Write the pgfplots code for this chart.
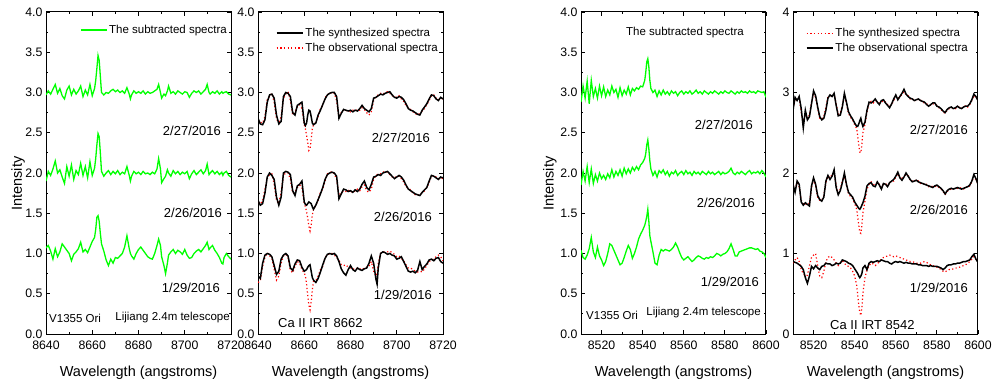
\documentclass[border=0pt]{standalone}
\usepackage{fontspec}
\setmainfont{Liberation Sans}
\usepackage{pgfplots}
\usepackage{pgfplotstable}
\pgfplotsset{compat=1.18}
\definecolor{grn}{RGB}{0,255,0}
\newcommand\fa{\fontsize{13bp}{15bp}\selectfont}
\newcommand\fb{\fontsize{11.5bp}{13bp}\selectfont}
\newcommand\fc{\fontsize{12.3bp}{14bp}\selectfont}

% Panel 1: subtracted spectra, Ca II 8662 (a: 2/27, b: 2/26, c: 1/29)
\pgfplotstableread{
x a b c
8640 2.97 1.90 1.07
8641 3.02 2.02 1.10
8642 2.98 1.97 1.03
8643 3.04 2.05 0.93
8644 3.10 2.15 1.06
8645 2.99 2.00 0.96
8646 3.05 2.04 1.02
8647 2.96 1.95 1.12
8648 2.92 1.87 1.08
8649 3.03 2.08 1.04
8650 3.08 1.96 1.00
8651 2.97 2.10 0.91
8652 3.04 1.92 0.99
8653 2.98 2.03 1.02
8654 3.02 1.98 1.06
8655 3.08 2.12 1.14
8656 2.95 1.97 1.02
8657 3.03 2.08 1.05
8658 2.97 1.94 1.01
8659 3.10 2.14 1.08
8660 2.96 1.97 1.15
8661 3.05 2.06 1.20
8661.5 3.15 2.18 1.30
8662 3.30 2.35 1.45
8662.5 3.46 2.49 1.47
8663 3.40 2.45 1.40
8663.5 3.20 2.25 1.25
8664 3.00 2.02 1.12
8665 2.97 1.96 1.03
8666 3.00 2.00 0.92
8667 2.99 2.03 0.85
8668 3.02 1.98 0.93
8669 3.04 2.02 0.88
8670 3.01 1.99 0.95
8671 3.03 2.03 0.94
8672 3.00 1.98 0.97
8673 3.02 2.01 1.00
8674 2.99 1.99 1.08
8675 3.06 2.08 1.22
8676 2.98 1.97 1.06
8676.5 2.92 1.90 1.00
8677 2.97 1.96 0.97
8678 3.02 2.02 0.93
8679 2.99 1.99 1.00
8680 3.01 2.01 1.05
8681 2.99 1.98 1.08
8682 3.02 2.02 1.04
8683 2.98 1.99 1.00
8684 3.01 2.00 0.96
8685 2.99 1.98 0.94
8686 3.00 2.01 0.93
8687 3.02 1.99 1.00
8688 3.04 2.05 1.10
8688.7 3.10 2.18 1.18
8689.5 3.00 2.05 1.10
8690 2.93 1.88 0.96
8691 2.98 1.93 0.85
8691.7 2.96 1.96 0.75
8692.5 3.02 2.04 0.88
8693 3.08 2.00 0.98
8694 2.99 1.96 1.02
8695 3.01 2.03 1.05
8696 2.98 1.99 1.00
8697 3.02 2.02 1.04
8698 3.00 1.98 1.02
8699 2.98 2.01 0.99
8700 3.01 1.99 1.05
8701 3.00 2.02 0.98
8702 2.94 1.93 0.94
8703 2.99 1.99 0.95
8704 3.02 2.03 1.00
8705 3.00 1.98 1.03
8706 3.02 2.01 1.05
8707 2.98 2.04 1.02
8708 3.01 1.99 1.06
8709 3.04 2.03 1.10
8709.7 3.10 2.11 1.14
8710.5 3.00 1.98 1.05
8711 2.98 2.00 1.07
8712 3.01 2.03 1.10
8713 2.99 1.99 1.04
8714 3.02 2.02 1.00
8715 2.98 1.98 0.95
8716 3.01 2.01 0.88
8716.5 2.99 1.97 0.87
8717 3.00 2.00 0.95
8718 3.01 2.02 1.00
8719 2.98 1.97 0.96
8720 2.97 1.95 0.93
}\tA

% Panel 2: synthesized (k) and observational (r) spectra, Ca II 8662
\pgfplotstableread{
x k3 r3 k2 r2 k1 r1
8640 2.68 2.66 1.66 1.64 0.72 0.64
8641 2.61 2.63 1.60 1.62 0.69 0.66
8642 2.60 2.62 1.62 1.65 0.88 0.84
8643 2.66 2.70 1.75 1.80 0.98 0.95
8644 2.88 2.92 1.95 1.93 1.00 1.01
8645 2.97 2.95 2.00 1.98 0.99 0.97
8646 2.98 2.99 1.97 1.99 0.96 0.94
8647 2.93 2.88 1.92 1.86 0.85 0.80
8648 2.72 2.67 1.70 1.66 0.74 0.67
8649 2.61 2.63 1.60 1.62 0.78 0.72
8650 2.64 2.70 1.70 1.76 0.93 0.88
8651 2.95 2.92 2.00 1.97 0.98 0.97
8652 3.00 2.98 2.02 2.00 1.00 0.99
8653 2.99 3.01 2.01 2.00 0.97 0.95
8654 2.95 2.90 1.98 1.92 0.82 0.79
8655 2.75 2.72 1.78 1.75 0.79 0.76
8656 2.72 2.76 1.72 1.76 0.87 0.84
8657 2.84 2.82 1.84 1.82 0.92 0.90
8658 2.86 2.85 1.86 1.85 0.91 0.88
8659 2.88 2.80 1.90 1.82 0.83 0.80
8660 2.62 2.60 1.64 1.62 0.78 0.76
8660.5 2.59 2.55 1.61 1.58 0.79 0.72
8661 2.62 2.47 1.60 1.52 0.80 0.62
8661.5 2.72 2.38 1.62 1.44 0.83 0.48
8662 2.78 2.28 1.64 1.34 0.85 0.36
8662.5 2.77 2.30 1.63 1.28 0.86 0.30
8663 2.70 2.42 1.62 1.36 0.78 0.40
8663.5 2.62 2.55 1.58 1.48 0.70 0.55
8664 2.60 2.60 1.55 1.55 0.67 0.65
8665 2.62 2.63 1.60 1.60 0.64 0.66
8666 2.72 2.70 1.67 1.66 0.69 0.72
8667 2.78 2.80 1.74 1.76 0.77 0.80
8668 2.85 2.84 1.82 1.80 0.86 0.84
8669 2.92 2.93 1.92 1.90 0.94 0.95
8670 2.97 2.98 1.98 1.99 0.99 0.98
8671 2.99 2.98 2.00 2.00 1.00 1.00
8672 3.00 3.01 2.01 2.02 0.99 1.00
8673 3.00 2.99 2.00 1.99 1.00 0.98
8674 2.95 2.90 1.96 1.92 0.97 0.95
8675 2.68 2.70 1.68 1.72 0.90 0.92
8676 2.74 2.75 1.74 1.75 0.81 0.86
8677 2.79 2.78 1.80 1.78 0.76 0.85
8678 2.78 2.77 1.79 1.77 0.73 0.86
8679 2.77 2.78 1.77 1.79 0.80 0.83
8680 2.78 2.76 1.78 1.76 0.85 0.82
8681 2.76 2.78 1.76 1.78 0.80 0.81
8682 2.78 2.77 1.79 1.77 0.78 0.80
8683 2.77 2.79 1.77 1.80 0.82 0.82
8684 2.80 2.78 1.80 1.78 0.80 0.81
8685 2.84 2.81 1.86 1.83 0.79 0.80
8686 2.80 2.79 1.90 1.85 0.81 0.82
8687 2.78 2.75 1.82 1.78 0.82 0.83
8688 2.76 2.72 1.79 1.76 0.88 0.84
8689 2.80 2.76 1.86 1.80 0.97 0.90
8690 2.93 2.90 1.95 1.92 0.88 0.78
8691 2.94 2.95 1.96 1.97 0.68 0.72
8691.5 2.95 2.96 1.97 1.98 0.62 0.75
8692 2.96 2.97 1.98 1.99 0.82 0.88
8693 2.98 2.99 1.97 1.99 1.00 1.00
8694 2.97 2.98 2.00 2.01 1.02 1.02
8695 2.99 3.00 2.01 2.02 1.01 1.02
8696 3.00 3.01 2.02 2.01 0.99 1.02
8697 3.01 2.99 1.99 1.98 1.00 1.03
8698 2.97 2.96 1.96 1.95 0.98 1.01
8699 2.94 2.95 1.93 1.94 0.97 0.99
8700 2.93 2.94 1.95 1.96 0.93 0.96
8701 2.95 2.96 1.97 1.96 0.94 0.97
8702 2.94 2.92 1.95 1.93 0.96 0.94
8703 2.91 2.89 1.91 1.89 0.90 0.91
8704 2.86 2.84 1.85 1.83 0.84 0.86
8705 2.80 2.81 1.80 1.81 0.78 0.82
8706 2.78 2.79 1.78 1.79 0.77 0.82
8707 2.77 2.76 1.76 1.75 0.78 0.80
8708 2.75 2.74 1.74 1.73 0.76 0.78
8709 2.73 2.72 1.73 1.72 0.79 0.77
8710 2.72 2.74 1.72 1.74 0.90 0.78
8711 2.78 2.77 1.76 1.75 0.80 0.77
8712 2.82 2.80 1.79 1.78 0.84 0.81
8713 2.86 2.85 1.82 1.82 0.87 0.85
8714 2.92 2.90 1.90 1.88 0.92 0.90
8715 2.97 2.96 1.97 1.96 0.93 0.92
8716 2.96 2.97 1.96 1.97 0.91 0.93
8717 2.92 2.93 1.94 1.95 0.94 0.96
8718 2.90 2.91 1.92 1.93 0.95 0.98
8719 2.94 2.93 1.95 1.94 0.90 0.96
8720 2.92 2.92 1.94 1.93 0.88 0.91
}\tB

% Panel 3: subtracted spectra, Ca II 8542
\pgfplotstableread{
x a b c
8510 2.88 1.85 1.04
8511 3.08 2.02 0.95
8512 2.93 1.90 0.93
8513 3.14 2.08 0.98
8514 2.86 1.88 1.06
8515 3.15 2.05 1.20
8516 2.95 1.87 1.02
8517 3.05 1.98 0.95
8518 2.93 1.90 1.08
8519 3.08 2.00 0.97
8520 2.96 1.93 0.92
8521 3.07 1.97 0.85
8522 2.95 1.92 0.90
8523 3.03 1.99 1.00
8524 2.97 1.94 1.12
8525 3.08 2.04 1.10
8526 3.00 1.95 1.04
8527 3.04 2.02 0.98
8528 2.94 1.97 0.92
8529 3.06 2.04 0.86
8530 2.96 1.96 0.88
8531 3.03 2.06 0.95
8532 2.98 1.99 1.03
8533 3.07 2.05 1.10
8534 2.97 2.00 1.05
8535 3.05 2.07 0.94
8536 3.02 2.03 1.00
8537 3.06 2.08 1.08
8538 3.04 2.04 1.18
8539 3.08 2.10 1.24
8540 3.07 2.13 1.29
8541 3.15 2.18 1.35
8541.5 3.25 2.24 1.40
8542 3.38 2.35 1.46
8542.5 3.42 2.41 1.55
8543 3.32 2.30 1.40
8543.5 3.15 2.15 1.22
8544 3.05 2.05 1.15
8545 3.00 1.97 1.02
8546 3.03 2.02 0.88
8547 2.95 1.95 0.86
8548 3.02 2.03 0.98
8549 2.97 2.00 1.05
8550 3.03 2.04 1.03
8551 2.98 1.98 1.05
8552 3.01 2.02 1.04
8553 2.97 1.96 1.03
8554 3.02 2.01 1.05
8555 2.99 1.99 1.08
8556 3.01 2.03 1.13
8557 2.96 1.97 1.08
8558 3.00 2.00 1.01
8559 3.02 2.02 0.95
8560 2.98 1.98 0.92
8561 3.01 2.03 0.94
8562 2.99 1.99 0.96
8563 3.02 2.01 0.93
8564 2.98 1.97 0.90
8565 3.00 2.02 0.92
8566 3.03 1.99 0.95
8567 2.99 2.01 0.97
8568 3.01 1.98 0.96
8569 2.98 2.02 0.94
8570 3.02 2.00 0.93
8571 3.00 1.98 0.95
8572 2.98 2.02 0.94
8573 3.01 1.99 0.96
8574 2.99 2.01 0.95
8575 3.02 1.98 0.97
8576 3.00 2.00 1.00
8577 2.98 2.02 0.99
8578 3.01 1.98 0.97
8579 2.99 2.01 0.99
8580 3.02 1.99 1.00
8581 3.00 2.00 1.02
8582 2.99 2.02 1.06
8583 3.02 2.06 1.12
8584 3.00 2.00 1.05
8585 2.98 1.98 0.97
8586 3.01 2.01 0.97
8587 2.99 1.99 1.02
8588 3.02 2.02 1.03
8589 3.00 2.00 1.04
8590 3.01 1.98 1.05
8591 2.99 2.01 1.06
8592 3.02 2.03 1.07
8593 3.00 1.99 1.07
8594 3.01 2.01 1.06
8595 2.99 2.00 1.05
8596 3.02 2.02 1.06
8597 3.01 1.99 1.03
8598 3.00 2.03 1.02
8599 3.01 2.00 1.00
8600 2.94 1.95 0.95
}\tC

% Panel 4: synthesized (r) and observational (k) spectra, Ca II 8542
\pgfplotstableread{
x k3 r3 k2 r2 k1 r1
8510 2.78 2.80 1.86 1.84 0.90 0.88
8511 2.94 2.92 1.76 1.80 0.89 0.92
8512 2.90 2.91 1.90 1.88 0.88 0.95
8513 2.95 2.93 1.86 1.83 0.86 0.90
8514 2.80 2.76 1.64 1.66 0.84 0.80
8515 2.56 2.62 1.60 1.62 0.80 0.75
8516 2.78 2.74 1.63 1.60 0.70 0.72
8517 2.66 2.68 1.61 1.63 0.63 0.73
8518 2.70 2.72 1.59 1.62 0.72 0.85
8519 2.86 2.88 1.84 1.82 0.84 0.95
8520 3.02 2.98 1.94 1.92 0.81 0.98
8521 2.96 2.94 1.86 1.84 0.85 1.00
8522 2.82 2.80 1.72 1.70 0.82 0.85
8523 2.70 2.68 1.67 1.66 0.80 0.72
8524 2.66 2.67 1.65 1.66 0.84 0.70
8525 2.68 2.70 1.70 1.72 0.85 0.78
8526 2.78 2.82 1.90 1.88 0.88 0.90
8527 2.93 2.95 1.97 1.96 0.87 0.95
8528 2.97 2.96 1.92 1.94 0.87 0.97
8529 2.95 2.97 1.96 1.98 0.85 0.95
8530 2.99 2.98 2.04 2.00 0.86 0.92
8531 2.84 2.86 1.82 1.85 0.88 0.88
8532 2.71 2.73 1.73 1.75 0.87 0.85
8533 2.72 2.74 1.78 1.80 0.88 0.88
8534 2.82 2.84 1.88 1.90 0.92 0.91
8535 2.99 2.96 2.00 1.97 0.91 0.88
8536 2.88 2.86 1.86 1.85 0.90 0.85
8537 2.76 2.74 1.76 1.74 0.88 0.84
8538 2.71 2.69 1.73 1.71 0.87 0.82
8539 2.67 2.66 1.70 1.68 0.85 0.78
8540 2.62 2.60 1.64 1.62 0.81 0.72
8541 2.58 2.55 1.60 1.55 0.77 0.60
8541.5 2.58 2.45 1.58 1.45 0.75 0.48
8542 2.61 2.35 1.56 1.35 0.72 0.36
8542.5 2.65 2.26 1.55 1.26 0.70 0.27
8543 2.68 2.25 1.57 1.25 0.72 0.23
8543.5 2.62 2.35 1.60 1.35 0.75 0.32
8544 2.58 2.50 1.63 1.50 0.82 0.50
8545 2.63 2.60 1.71 1.65 0.85 0.70
8546 2.78 2.76 1.84 1.80 0.80 0.80
8547 2.88 2.87 1.87 1.86 0.88 0.85
8548 2.87 2.89 1.88 1.89 0.90 0.88
8549 2.89 2.87 1.84 1.86 0.89 0.87
8550 2.92 2.90 1.83 1.85 0.90 0.85
8551 2.88 2.89 1.89 1.88 0.91 0.87
8552 2.85 2.87 1.85 1.86 0.90 0.90
8553 2.90 2.88 1.80 1.82 0.92 0.93
8554 2.91 2.90 1.87 1.86 0.91 0.95
8555 2.87 2.88 1.86 1.87 0.90 0.96
8556 2.84 2.85 1.83 1.84 0.90 0.97
8557 2.81 2.83 1.88 1.87 0.88 0.98
8558 2.86 2.85 1.90 1.91 0.87 0.97
8559 2.92 2.90 1.92 1.90 0.89 0.96
8560 2.97 2.95 1.96 1.95 0.90 0.97
8561 2.91 2.93 2.01 1.99 0.89 0.96
8562 2.95 2.94 1.94 1.95 0.90 0.95
8563 2.99 2.98 1.91 1.92 0.89 0.94
8564 3.04 3.01 1.95 1.96 0.88 0.93
8565 2.98 2.97 2.00 1.98 0.89 0.92
8566 2.95 2.96 1.96 1.97 0.88 0.91
8567 2.93 2.92 1.92 1.91 0.88 0.90
8568 2.92 2.93 1.89 1.90 0.87 0.90
8569 2.90 2.89 1.90 1.89 0.87 0.89
8570 2.91 2.92 1.91 1.92 0.87 0.88
8571 2.92 2.91 1.89 1.90 0.86 0.88
8572 2.90 2.91 1.88 1.87 0.86 0.88
8573 2.89 2.88 1.87 1.88 0.85 0.89
8574 2.88 2.87 1.86 1.85 0.85 0.90
8575 2.85 2.86 1.85 1.86 0.85 0.89
8576 2.83 2.84 1.84 1.83 0.84 0.87
8577 2.85 2.84 1.83 1.84 0.85 0.86
8578 2.87 2.86 1.82 1.83 0.84 0.85
8579 2.87 2.85 1.84 1.83 0.84 0.84
8580 2.83 2.84 1.85 1.84 0.84 0.83
8581 2.82 2.81 1.83 1.82 0.83 0.82
8582 2.80 2.79 1.81 1.80 0.82 0.80
8583 2.77 2.76 1.78 1.77 0.80 0.78
8584 2.75 2.74 1.74 1.73 0.82 0.77
8585 2.79 2.78 1.78 1.77 0.85 0.79
8586 2.81 2.80 1.80 1.79 0.86 0.80
8587 2.82 2.81 1.81 1.80 0.86 0.80
8588 2.80 2.81 1.80 1.81 0.87 0.81
8589 2.81 2.80 1.81 1.80 0.87 0.82
8590 2.83 2.82 1.82 1.81 0.88 0.82
8591 2.81 2.82 1.81 1.82 0.88 0.83
8592 2.80 2.81 1.80 1.81 0.89 0.84
8593 2.82 2.81 1.81 1.80 0.90 0.85
8594 2.83 2.84 1.82 1.83 0.90 0.86
8595 2.83 2.82 1.83 1.82 0.91 0.88
8596 2.86 2.85 1.85 1.84 0.92 0.90
8597 2.91 2.90 1.90 1.89 0.96 0.93
8598 2.98 2.96 1.98 1.96 0.99 0.96
8599 2.95 2.94 1.93 1.92 0.93 0.93
8600 2.90 2.91 1.86 1.87 0.89 0.90
}\tD

\pgfplotsset{
  base/.style={
    scale only axis, width=185bp, height=322bp, anchor=south west,
    ymin=0, ymax=4,
    tick align=inside, major tick length=4bp, minor tick length=2bp,
    tick style={black, line width=0.8bp},
    axis line style={line width=1bp},
    tick label style={font=\fc},
    /pgf/number format/assume math mode=true,
    xticklabel style={/pgf/number format/set thousands separator={}, yshift=-3bp},
    minor x tick num=1,
    label style={font=\fontsize{14.5bp}{16bp}\selectfont},
    xlabel={Wavelength (angstroms)},
    xlabel style={at={(axis description cs:0.5,-0.121)}, anchor=center},
    legend style={draw=none, fill=none, font=\fb, inner sep=0pt, row sep=1bp},
    legend cell align=left,
    legend image code/.code={\draw[##1] (0bp,0bp) -- (26bp,0bp);},
  },
  decy/.style={ytick={0,0.5,1,1.5,2,2.5,3,3.5,4}, minor y tick num=1,
    yticklabel style={/pgf/number format/fixed, /pgf/number format/fixed zerofill, /pgf/number format/precision=1}},
  g/.style={grn, line width=1.3bp},
  k/.style={black, line width=1.5bp},
  r/.style={red, line width=1.2bp, dash pattern=on 1.2bp off 2.4bp},
}

\begin{document}
\begin{tikzpicture}
\useasboundingbox (0,0) rectangle (992bp,389bp);

% Panel 1
\begin{axis}[base, decy, at={(46bp,55bp)}, xmin=8640, xmax=8720, xtick={8640,8660,8680,8700,8720},
  ylabel={Intensity}, ylabel style={at={(axis description cs:-0.151,0.467)}, anchor=center},
  legend style={at={(axis description cs:1,1)}, anchor=north east, xshift=-2bp, yshift=-11bp}]
\addplot[g] table[x=x,y=a]{\tA};
\addlegendentry{The subtracted spectra}
\addplot[g, forget plot] table[x=x,y=b]{\tA};
\addplot[g, forget plot] table[x=x,y=c]{\tA};
\end{axis}

% Panel 2
\begin{axis}[base, decy, at={(258bp,55bp)}, xmin=8640, xmax=8720, xtick={8640,8660,8680,8700,8720},
  legend style={at={(axis description cs:1,1)}, anchor=north east, xshift=-3bp, yshift=-14bp}]
\addlegendimage{k}
\addlegendentry{The synthesized spectra}
\addlegendimage{r}
\addlegendentry{The observational spectra}
\addplot[r, forget plot] table[x=x,y=r3]{\tB};
\addplot[r, forget plot] table[x=x,y=r2]{\tB};
\addplot[r, forget plot] table[x=x,y=r1]{\tB};
\addplot[k, forget plot] table[x=x,y=k3]{\tB};
\addplot[k, forget plot] table[x=x,y=k2]{\tB};
\addplot[k, forget plot] table[x=x,y=k1]{\tB};
\end{axis}

% Panel 3
\begin{axis}[base, decy, at={(581bp,55bp)}, xmin=8510, xmax=8600, xtick={8520,8540,8560,8580,8600},
  ylabel={Intensity}, ylabel style={at={(axis description cs:-0.168,0.467)}, anchor=center}]
\addplot[g] table[x=x,y=a]{\tC};
\addplot[g] table[x=x,y=b]{\tC};
\addplot[g] table[x=x,y=c]{\tC};
\end{axis}

% Panel 4
\begin{axis}[base, at={(793bp,55bp)}, xmin=8510, xmax=8600, xtick={8520,8540,8560,8580,8600},
  ytick={0,1,2,3,4}, minor y tick num=1,
  legend style={at={(axis description cs:1,1)}, anchor=north east, xshift=-8bp, yshift=-14bp}]
\addlegendimage{r}
\addlegendentry{The synthesized spectra}
\addlegendimage{k}
\addlegendentry{The observational spectra}
\addplot[r, forget plot] table[x=x,y=r3]{\tD};
\addplot[r, forget plot] table[x=x,y=r2]{\tD};
\addplot[r, forget plot] table[x=x,y=r1]{\tD};
\addplot[k, forget plot] table[x=x,y=k3]{\tD};
\addplot[k, forget plot] table[x=x,y=k2]{\tD};
\addplot[k, forget plot] table[x=x,y=k1]{\tD};
\end{axis}

% Annotations
\begin{scope}[every node/.style={inner sep=0pt, font=\fa}]
\node[anchor=east] at (221bp,258bp) {2/27/2016};
\node[anchor=east] at (222bp,176bp) {2/26/2016};
\node[anchor=east] at (220bp,101bp) {1/29/2016};
\node[anchor=west, font=\fb] at (49bp,71bp) {V1355 Ori};
\node[anchor=east, font=\fb] at (230bp,71bp) {Lijiang 2.4m telescope};

\node[anchor=east] at (430bp,251bp) {2/27/2016};
\node[anchor=east] at (432bp,172bp) {2/26/2016};
\node[anchor=east] at (432bp,94bp) {1/29/2016};
\node[anchor=west] at (278bp,66bp) {Ca II IRT 8662};

\node[anchor=west, font=\fb] at (626bp,356bp) {The subtracted spectra};
\node[anchor=east] at (753bp,264bp) {2/27/2016};
\node[anchor=east] at (755bp,186bp) {2/26/2016};
\node[anchor=east] at (759bp,107bp) {1/29/2016};
\node[anchor=west, font=\fb] at (586bp,74bp) {V1355 Ori};
\node[anchor=east, font=\fb] at (761bp,76bp) {Lijiang 2.4m telescope};

\node[anchor=east] at (968bp,259bp) {2/27/2016};
\node[anchor=east] at (968bp,179bp) {2/26/2016};
\node[anchor=east] at (968bp,101bp) {1/29/2016};
\node[anchor=west] at (830bp,64bp) {Ca II IRT 8542};
\end{scope}
\end{tikzpicture}
\end{document}
